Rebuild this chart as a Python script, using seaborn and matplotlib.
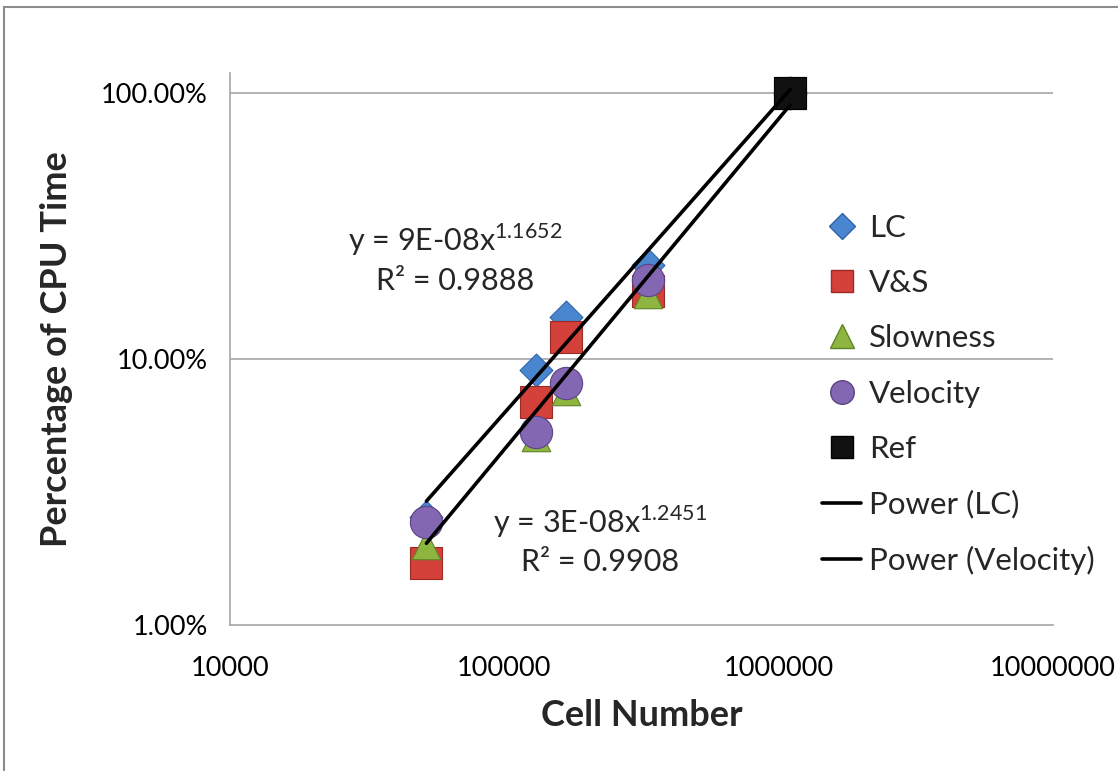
import numpy as np
import matplotlib
matplotlib.use("Agg")
import matplotlib.pyplot as plt
from matplotlib.lines import Line2D
from matplotlib.patches import Rectangle
from matplotlib.ticker import FixedLocator, FixedFormatter, NullLocator
import seaborn as sns

# ---- data ----
cells = [52000, 130000, 168000, 335000, 1100000]
lc = [2.55, 9.1, 14.4, 22.6, 100.0]
vs = [1.71, 6.9, 12.1, 18.0, 100.0]
slowness = [2.0, 5.1, 7.6, 17.5, 100.0]
velocity = [2.44, 5.3, 8.1, 19.8, 100.0]
ref_x = [1100000]
ref_y = [100.0]

x_ticks = [10000, 100000, 1000000, 10000000]
x_labels = ["10000", "100000", "1000000", "10000000"]
y_ticks = [0.01, 0.1, 1.0]
y_labels = ["1.00%", "10.00%", "100.00%"]

eq_lc = ["y = 9E-08x$^{\\mathrm{1.1652}}$", "R² = 0.9888"]
eq_vel = ["y = 3E-08x$^{\\mathrm{1.2451}}$", "R² = 0.9908"]

sns.set_theme(style="white")
plt.rcParams["font.family"] = ["Lato", "DejaVu Sans"]
plt.rcParams["mathtext.fontset"] = "custom"
plt.rcParams["mathtext.rm"] = "Lato"

W, H = 1118, 771
fig = plt.figure(figsize=(W / 100, H / 100), dpi=100)
ax = fig.add_axes([230 / W, 1 - 625 / H, (1053 - 230) / W, (625 - 73) / H])

ax.set_xscale("log")
ax.set_yscale("log")
ax.set_xlim(10000, 10000000)
ax.set_ylim(0.01, 10 ** (20 / 266))

# power fits (least squares in log-log space)
def power_fit(xs, ys):
    lx = np.log10(np.asarray(xs, float))
    ly = np.log10(np.asarray(ys, float) / 100.0)
    b, a = np.polyfit(lx, ly, 1)
    xx = np.array([min(xs), max(xs)], float)
    return xx, 10 ** (a + b * np.log10(xx))

colors = {
    "LC": ("#4A86D0", "#2F62A8"),
    "V&S": ("#D4403A", "#9E2A25"),
    "Slowness": ("#8DB540", "#5F8428"),
    "Velocity": ("#8467B2", "#5B4385"),
    "Ref": ("#111111", "#000000"),
}

series = [
    ("LC", cells, lc, "D", 280),
    ("V&S", cells, vs, "s", 540),
    ("Slowness", cells, slowness, "^", 420),
    ("Velocity", cells, velocity, "o", 540),
    ("Ref", ref_x, ref_y, "s", 560),
]

# gridlines
for yt in [0.1, 1.0]:
    ax.axhline(yt, color="#A6A6A6", lw=1.2, zorder=0)

for i, (name, xs, ys, mk, s) in enumerate(series):
    fc, ec = colors[name]
    sns.scatterplot(x=xs, y=[v / 100.0 for v in ys], marker=mk, s=s,
                    color=fc, edgecolor=ec, linewidth=0.8, ax=ax,
                    zorder=3 + i, legend=False)

fx, fy = power_fit(cells, lc)
sns.lineplot(x=fx, y=fy, color="black", linewidth=2.6, ax=ax, zorder=10, legend=False)
fx, fy = power_fit(cells, velocity)
sns.lineplot(x=fx, y=fy, color="black", linewidth=2.6, ax=ax, zorder=10, legend=False)

ax.xaxis.set_major_locator(FixedLocator(x_ticks))
ax.xaxis.set_major_formatter(FixedFormatter(x_labels))
ax.xaxis.set_minor_locator(NullLocator())
ax.yaxis.set_major_locator(FixedLocator(y_ticks))
ax.yaxis.set_major_formatter(FixedFormatter(y_labels))
ax.yaxis.set_minor_locator(NullLocator())
ax.tick_params(axis="both", length=0, labelsize=19.5, colors="black")
ax.tick_params(axis="x", pad=22)
ax.tick_params(axis="y", pad=16)

for sp in ["top", "right"]:
    ax.spines[sp].set_visible(False)
for sp in ["left", "bottom"]:
    ax.spines[sp].set_color("#A6A6A6")
    ax.spines[sp].set_linewidth(1.2)

ax.set_xlabel("Cell Number", fontsize=26, fontweight="bold", labelpad=13)
ax.set_ylabel("Percentage of CPU Time", fontsize=26, fontweight="bold", labelpad=20)

# equation labels
fig.text(455 / W, 1 - 240 / H, eq_lc[0], fontsize=22, ha="center", va="center")
fig.text(455 / W, 1 - 281 / H, eq_lc[1], fontsize=22, ha="center", va="center")
fig.text(600 / W, 1 - 522 / H, eq_vel[0], fontsize=22, ha="center", va="center")
fig.text(600 / W, 1 - 562 / H, eq_vel[1], fontsize=22, ha="center", va="center")

# legend
handles = [
    Line2D([], [], ls="none", marker="D", ms=13, mfc=colors["LC"][0], mec=colors["LC"][1]),
    Line2D([], [], ls="none", marker="s", ms=16, mfc=colors["V&S"][0], mec=colors["V&S"][1]),
    Line2D([], [], ls="none", marker="^", ms=17, mfc=colors["Slowness"][0], mec=colors["Slowness"][1]),
    Line2D([], [], ls="none", marker="o", ms=17, mfc=colors["Velocity"][0], mec=colors["Velocity"][1]),
    Line2D([], [], ls="none", marker="s", ms=16, mfc=colors["Ref"][0], mec=colors["Ref"][1]),
    Line2D([], [], color="black", lw=2.6),
    Line2D([], [], color="black", lw=2.6),
]
labels = ["LC", "V&S", "Slowness", "Velocity", "Ref", "Power (LC)", "Power (Velocity)"]
fig.legend(handles, labels, loc="upper left", bbox_to_anchor=(822 / W, 1 - 214 / H),
           frameon=False, fontsize=22.5, handlelength=1.25, handletextpad=0.25,
           labelspacing=0.87, borderpad=0, borderaxespad=0)

# outer chart frame
fig.patches.append(Rectangle((4 / W, -0.05), 1.2, 1 - 7 / H + 0.05, transform=fig.transFigure,
                             fill=False, edgecolor="#8C8C8C", lw=1.5))

fig.savefig("out.png", dpi=100)
